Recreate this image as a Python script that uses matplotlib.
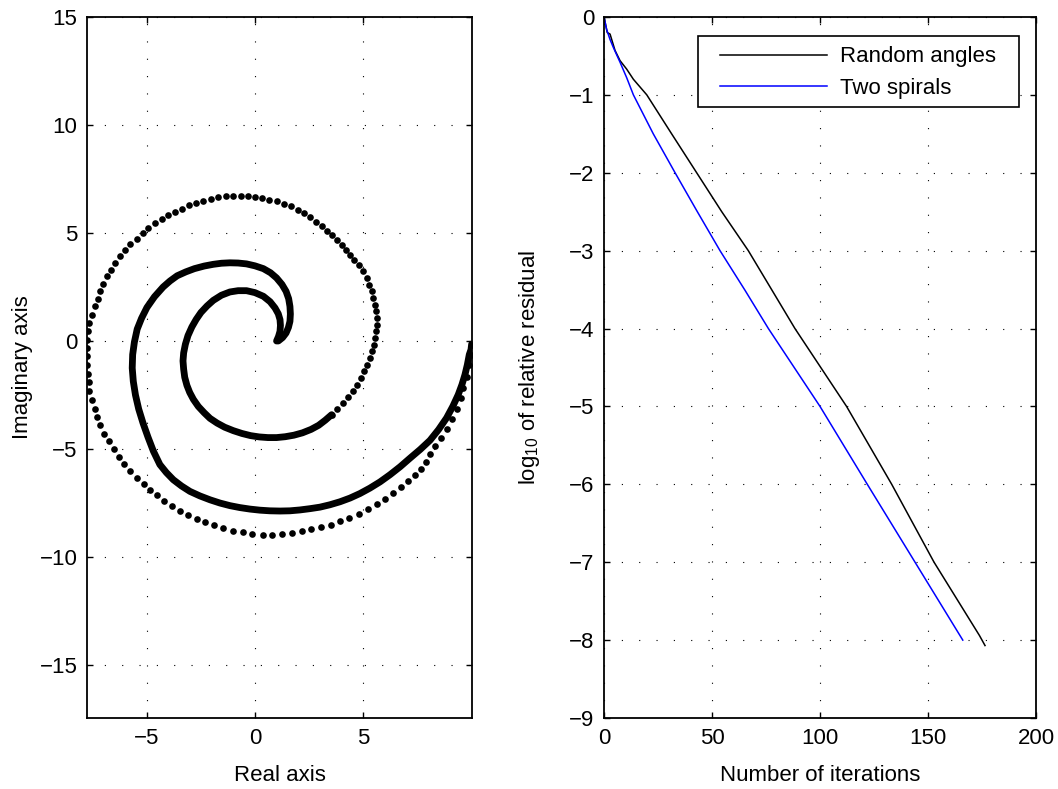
import matplotlib
matplotlib.use("Agg")
import matplotlib.pyplot as plt
from matplotlib.patches import Rectangle

plt.rcParams['font.family'] = ['Liberation Sans', 'DejaVu Sans']
plt.rcParams['mathtext.fontset'] = 'custom'
plt.rcParams['mathtext.rm'] = 'Liberation Sans'
plt.rcParams['mathtext.it'] = 'Liberation Sans:italic'
plt.rcParams['axes.unicode_minus'] = True

# outer spiral: individually visible eigenvalues (real, imaginary)
outer_re = [10.03, 10.00, 9.92, 9.80, 9.65, 9.52, 9.34, 9.14, 8.87, 8.61, 8.35, 8.10,
            7.92, 7.67, 7.41, 7.10, 6.74, 6.37, 6.02, 5.63, 5.23, 4.81, 4.37, 3.94,
            3.50, 3.06, 2.61, 2.16, 1.70, 1.23, 0.80, 0.35, -0.12, -0.57, -1.00, -1.47,
            -1.90, -2.31, -2.70, -3.09, -3.47, -3.86, -4.21, -4.55, -4.86, -5.15, -5.45,
            -5.78, -6.08, -6.31, -6.54, -6.77, -6.98, -7.16, -7.31, -7.42, -7.55, -7.67,
            -7.70, -7.75, -7.76, -7.76, -7.76, -7.76, -7.73, -7.67, -7.55, -7.42, -7.27,
            -7.16, -7.01, -6.84, -6.65, -6.47, -6.23, -6.00, -5.77, -5.48, -5.20, -4.94,
            -4.63, -4.32, -4.01, -3.70, -3.36, -3.04, -2.73, -2.39, -2.05, -1.70, -1.36,
            -1.00, -0.66, -0.31, 0.00, 0.34, 0.66, 1.00, 1.34, 1.65, 1.98, 2.27, 2.55,
            2.82, 3.09, 3.32, 3.55, 3.78, 4.01, 4.21, 4.40, 4.58, 4.83, 5.02, 5.17, 5.29,
            5.40, 5.48, 5.56, 5.60, 5.63, 5.63, 5.60, 5.56, 5.51, 5.43, 5.32, 5.20, 5.06,
            4.91, 4.74, 4.55, 4.32, 4.09, 3.81, 3.55]
outer_im = [-0.17, -0.63, -1.10, -1.65, -2.18, -2.64, -3.13, -3.60, -4.06, -4.49, -4.88,
            -5.24, -5.60, -5.91, -6.19, -6.47, -6.76, -7.04, -7.30, -7.55, -7.78, -7.99,
            -8.19, -8.35, -8.50, -8.63, -8.72, -8.81, -8.89, -8.94, -8.97, -8.97, -8.92,
            -8.86, -8.78, -8.66, -8.53, -8.38, -8.22, -8.04, -7.85, -7.65, -7.42, -7.15,
            -6.88, -6.60, -6.32, -6.01, -5.69, -5.39, -4.98, -4.65, -4.29, -3.90, -3.53,
            -3.13, -2.72, -2.33, -1.91, -1.53, -1.10, -0.71, -0.32, 0.06, 0.45, 0.83, 1.22,
            1.60, 1.96, 2.30, 2.64, 2.99, 3.30, 3.61, 3.92, 4.23, 4.49, 4.72, 5.00, 5.23,
            5.46, 5.66, 5.82, 5.97, 6.13, 6.28, 6.39, 6.50, 6.57, 6.65, 6.70, 6.73, 6.73,
            6.70, 6.67, 6.62, 6.54, 6.47, 6.36, 6.23, 6.08, 5.93, 5.73, 5.51, 5.31, 5.11,
            4.89, 4.66, 4.46, 4.23, 4.00, 3.77, 3.53, 3.23, 2.92, 2.61, 2.30, 1.99, 1.68,
            1.37, 1.06, 0.76, 0.45, 0.14, -0.17, -0.48, -0.79, -1.10, -1.40, -1.71, -2.02,
            -2.30, -2.61, -2.87, -3.13, -3.41]

# inner turn of the same spiral, eigenvalues packed into a solid band
inner_re = [3.55, 3.25, 2.95, 2.60, 2.20, 1.80, 1.40, 1.00, 0.60, 0.20, -0.20, -0.60,
            -1.00, -1.40, -1.75, -2.08, -2.35, -2.62, -2.85, -3.02, -3.15, -3.25, -3.30,
            -3.33, -3.30, -3.22, -3.10, -2.92, -2.72, -2.50, -2.22, -1.93, -1.55, -1.16,
            -0.78, -0.39, 0.00, 0.39, 0.70, 0.93, 1.08, 1.16, 1.18, 1.16, 1.09, 1.00]
inner_im = [-3.41, -3.67, -3.90, -4.09, -4.25, -4.36, -4.43, -4.47, -4.47, -4.44, -4.38,
            -4.28, -4.15, -3.99, -3.80, -3.58, -3.32, -3.03, -2.70, -2.38, -2.05, -1.68,
            -1.30, -0.92, -0.55, -0.15, 0.25, 0.65, 1.00, 1.32, 1.62, 1.88, 2.12, 2.27,
            2.33, 2.33, 2.24, 2.07, 1.82, 1.53, 1.26, 0.99, 0.72, 0.45, 0.21, 0.00]

# second spiral, dense along its whole length
band_re = [10.03, 10.00, 9.92, 9.83, 9.72, 9.58, 9.41, 9.16, 8.87, 8.50, 8.10, 7.65,
           7.18, 6.72, 6.25, 5.79, 5.32, 4.86, 4.40, 3.94, 3.47, 3.01, 2.55, 2.08, 1.62,
           1.16, 0.69, 0.23, -0.23, -0.70, -1.16, -1.62, -2.08, -2.55, -3.01, -3.40, -3.78,
           -4.10, -4.40, -4.70, -4.95, -5.18, -5.38, -5.53, -5.63, -5.68, -5.66, -5.58,
           -5.45, -5.25, -5.00, -4.65, -4.25, -3.93, -3.60, -3.20, -2.80, -2.35, -1.93,
           -1.55, -1.16, -0.78, -0.39, 0.00, 0.39, 0.72, 1.00, 1.25, 1.44, 1.56, 1.62,
           1.64, 1.62, 1.55, 1.44, 1.28, 1.08]
band_im = [-0.14, -0.40, -0.63, -1.10, -1.56, -2.02, -2.48, -3.02, -3.56, -4.10, -4.60,
           -5.02, -5.42, -5.82, -6.19, -6.52, -6.81, -7.06, -7.27, -7.44, -7.58, -7.69,
           -7.76, -7.82, -7.86, -7.87, -7.86, -7.83, -7.78, -7.71, -7.62, -7.50, -7.35,
           -7.17, -6.96, -6.71, -6.42, -6.09, -5.72, -5.10, -4.45, -3.80, -3.15, -2.50,
           -1.87, -1.25, -0.63, -0.05, 0.55, 1.05, 1.55, 2.05, 2.50, 2.78, 3.02, 3.20,
           3.35, 3.47, 3.55, 3.60, 3.62, 3.61, 3.57, 3.48, 3.35, 3.16, 2.92, 2.62, 2.30,
           1.96, 1.60, 1.25, 0.91, 0.63, 0.37, 0.16, 0.00]

# convergence histories
it_random = [0, 1.5, 2.8, 5.1, 7.4, 10.5, 13.6, 19.8, 31.3, 42.9, 54.5, 66.8, 77.6, 88.4,
             112.3, 133.2, 152.8, 173.8, 176.4]
res_random = [0, -0.20, -0.22, -0.43, -0.56, -0.67, -0.80, -1.0, -1.5, -2.0, -2.5, -3.0,
              -3.5, -4.0, -5.0, -6.0, -7.0, -7.94, -8.07]
it_spiral = [0, 1.2, 2.8, 4.3, 7.4, 10.5, 13.6, 22.8, 32.9, 43.0, 53.7, 65.3, 76.1, 100.0,
             121.9, 144.0, 166.1]
res_spiral = [0, -0.16, -0.29, -0.39, -0.58, -0.78, -1.0, -1.5, -2.0, -2.49, -3.0, -3.51,
              -4.0, -5.0, -6.0, -7.0, -8.0]

FS = 16
grid_style = dict(color='k', linestyle=(0, (1, 14.6)), linewidth=0.8)


def matlab_axes(ax):
    for s in ax.spines.values():
        s.set_linewidth(1.3)
    ax.tick_params(direction='in', top=True, right=True, length=4, width=1,
                   labelsize=FS, pad=7)
    ax.grid(True, **grid_style)
    ax.set_axisbelow(True)


fig = plt.figure(figsize=(10.58, 7.89), dpi=100)
ax1 = fig.add_axes([0.0825, 0.0900, 0.3633, 0.8885])
ax2 = fig.add_axes([0.5709, 0.0900, 0.4083, 0.8885])

# eigenvalue plot
band_kw = dict(color='k', lw=4.9, solid_capstyle='round', solid_joinstyle='round')
ax1.plot(band_re, band_im, '-', **band_kw)
ax1.plot(inner_re, inner_im, '-', **band_kw)
ax1.plot(outer_re, outer_im, 'o', color='k', markersize=4.8, markeredgewidth=0)
ax1.set_xlim(-7.76, 10.03)
ax1.set_ylim(-17.45, 15.0)
ax1.set_xticks([-5, 0, 5])
ax1.set_yticks([-15, -10, -5, 0, 5, 10, 15])
ax1.set_xlabel('Real axis', fontsize=FS, labelpad=12)
ax1.set_ylabel('Imaginary axis', fontsize=FS, labelpad=5)
matlab_axes(ax1)

# residual histories
ax2.plot(it_random, res_random, color='k', lw=1.1, label='Random angles')
ax2.plot(it_spiral, res_spiral, color=(0, 0, 1), lw=1.1, label='Two spirals')
ax2.set_xlim(0, 200)
ax2.set_ylim(-9, 0)
ax2.set_xticks([0, 50, 100, 150, 200])
ax2.set_yticks(range(-9, 1))
ax2.set_xlabel('Number of iterations', fontsize=FS, labelpad=12)
ax2.set_ylabel(r'log$_{10}$ of relative residual', fontsize=FS, labelpad=19)
matlab_axes(ax2)

# legend box drawn separately so the padding around the entries can be wider
ax2.add_patch(Rectangle((0.2169, 0.8718), 0.9606 - 0.2169, 0.9729 - 0.8718,
                        transform=ax2.transAxes, facecolor='white', edgecolor='k',
                        linewidth=1.2, zorder=4))
leg = ax2.legend(loc='upper left', bbox_to_anchor=(0.2685, 0.9580), borderaxespad=0,
                 fontsize=FS, frameon=False, handlelength=4.8, handletextpad=0.6,
                 borderpad=0, labelspacing=0.47)
leg.set_zorder(5)

fig.savefig('out.png', dpi=100)
